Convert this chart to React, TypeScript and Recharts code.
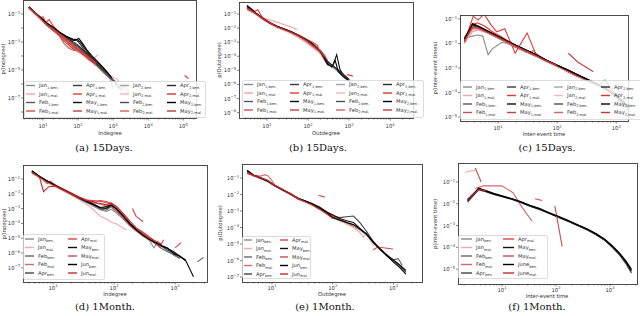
import React from 'react';
import { LineChart, Line, XAxis, YAxis } from 'recharts';

type Pt = [number, number | null];

// ---------- (a) indegree, 15 days ----------
const aJan1Ben: Pt[] = [[4,3e-1],[6,1.1e-1],[9,4.3e-2],[13,1.9e-2],[20,8e-3],[30,3.6e-3],[45,1.8e-3],[70,8e-4],[100,4e-4],[150,1.6e-4],[220,6e-5],[330,2.2e-5],[500,8e-6],[800,3e-6],[1100,1.6e-6],[1500,4e-7],[2000,7e-7],[2700,1.5e-7]];
const aJan1Mal: Pt[] = [[4,2.8e-1],[6,1.2e-1],[9,5e-2],[13,2.3e-2],[20,1e-2],[30,4.5e-3],[45,1.7e-3],[70,7e-4],[100,3.2e-4],[150,1.3e-4],[220,5e-5],[330,2e-5],[500,8e-6],[700,null],[290,7e-5],[370,1.2e-4]];
const aFeb1Ben: Pt[] = [[4,3.1e-1],[6,1.05e-1],[9,4.2e-2],[13,1.8e-2],[20,9e-3],[30,3.9e-3],[45,2e-3],[70,9e-4],[100,5e-4],[150,1.9e-4],[220,7e-5],[330,2.6e-5],[500,9e-6],[800,3.3e-6],[1200,1.4e-6]];
const aFeb1Mal: Pt[] = [[4,2.6e-1],[6,1e-1],[9,4e-2],[13,1.6e-2],[20,7e-3],[30,2.5e-3],[40,8e-4],[55,3.5e-4],[75,2.5e-4],[100,2.8e-4],[150,1.1e-4],[220,5e-5]];
const aApr1Ben: Pt[] = [[4,3.2e-1],[6,1.2e-1],[9,5e-2],[13,2e-2],[20,1e-2],[30,4.2e-3],[45,2.3e-3],[70,1.3e-3],[90,1.4e-3],[115,7e-4],[150,2.6e-4],[220,9e-5],[330,3.2e-5],[500,1.2e-5],[800,4e-6]];
const aApr1Mal: Pt[] = [[4,2.5e-1],[6,1.3e-1],[8,5e-2],[10,6.5e-2],[12,2.5e-2],[15,4e-2],[20,1.3e-2],[30,4.5e-3],[45,1.6e-3],[60,4.5e-4],[80,3e-4],[110,2e-4],[150,1.4e-4],[220,7e-5]];
const aMay1Ben: Pt[] = [[4,3e-1],[6,1.1e-1],[9,4.6e-2],[13,2.1e-2],[20,1.05e-2],[30,4.6e-3],[45,2.6e-3],[70,1.6e-3],[95,1.5e-3],[120,9e-4],[160,3e-4],[220,1.1e-4],[330,4e-5],[500,1.6e-5],[700,6e-6],[950,2.5e-6]];
const aMay1Mal: Pt[] = [[4,3e-1],[6,1e-1],[9,3.6e-2],[13,1.5e-2],[20,6e-3],[30,2.6e-3],[45,9e-4],[70,3.5e-4],[100,2e-4],[150,1e-4]];
const aJan2Ben: Pt[] = [[4,2.9e-1],[6,1.1e-1],[9,4.4e-2],[13,1.9e-2],[20,8.2e-3],[30,3.4e-3],[45,1.5e-3],[70,7e-4],[100,3.5e-4],[150,1.4e-4],[220,5e-5],[330,2e-5],[500,7e-6],[800,2.5e-6],[1000,5e-7],[1300,1.5e-6],[1700,3e-7],[2200,1e-6],[3000,2e-7]];
const aJan2Mal: Pt[] = [[4,2.7e-1],[6,1e-1],[9,4e-2],[13,1.8e-2],[20,7.5e-3],[30,3e-3],[45,1.3e-3],[70,5e-4],[100,2.2e-4],[150,9e-5],[220,4e-5],[330,1.8e-5],[500,8e-6],[800,4e-6],[1200,2.5e-6],[2000,9e-7]];
const aFeb2Ben: Pt[] = [[4,2.9e-1],[6,1.05e-1],[9,4.4e-2],[13,1.9e-2],[20,8.6e-3],[30,3.7e-3],[45,1.7e-3],[70,8.5e-4],[100,4.5e-4],[150,1.7e-4],[220,6.5e-5],[330,2.4e-5],[500,8.5e-6],[800,2.6e-6],[1200,1.1e-6],[1600,5e-7]];
const aFeb2Mal: Pt[] = [[4,2.9e-1],[6,1.1e-1],[9,4.8e-2],[13,2.1e-2],[20,9e-3],[30,3.5e-3],[45,1.4e-3],[70,6e-4],[100,3e-4],[150,1.4e-4],[220,5.5e-5]];
const aApr2Ben: Pt[] = [[4,3.1e-1],[6,1.15e-1],[9,4.7e-2],[13,2.1e-2],[20,9.5e-3],[30,4.2e-3],[45,2e-3],[70,1.1e-3],[100,6e-4],[150,2.2e-4],[220,8e-5],[330,3e-5],[500,1.1e-5],[800,3.6e-6]];
const aApr2Mal: Pt[] = [[4,2.7e-1],[6,1.2e-1],[9,5.5e-2],[13,2.2e-2],[20,1e-2],[30,4e-3],[45,1.8e-3],[70,7e-4],[100,3e-4],[150,1.5e-4],[220,7e-5],[330,3e-5],[400,null],[110000,4e-6],[140000,2.4e-6]];
const aMay2Ben: Pt[] = [[4,3.3e-1],[6,1.2e-1],[9,5e-2],[13,2.2e-2],[20,1.1e-2],[30,5e-3],[45,2.7e-3],[60,1.8e-3],[80,1.3e-3],[105,1.8e-3],[130,9e-4],[180,2.6e-4],[250,1e-4],[330,5e-5],[500,1.7e-5],[700,6.5e-6],[900,3e-6]];
const aMay2Mal: Pt[] = [[4,3e-1],[6,1.2e-1],[9,4.1e-2],[13,1.7e-2],[20,7e-3],[30,3e-3],[45,1.2e-3],[70,5e-4],[100,2.5e-4],[150,1.1e-4],[220,5e-5],[330,2.4e-5]];

// ---------- (b) outdegree, 15 days ----------
const bJan1Ben: Pt[] = [[3.3,3e-1],[5,1.2e-1],[8,4.4e-2],[12,2.1e-2],[18,1.2e-2],[27,7.5e-3],[40,4.8e-3],[60,2.7e-3],[90,1.3e-3],[130,6e-4],[200,1.9e-4],[250,7e-5],[300,3.5e-5],[450,1.3e-5],[650,5.5e-6],[1000,1.8e-6],[1300,1e-6]];
const bJan1Mal: Pt[] = [[3.3,2.5e-1],[5,1.2e-1],[7,6.5e-2],[9,5e-2],[12,3.8e-2],[18,2.6e-2],[27,1.7e-2],[40,1.15e-2],[55,8e-3]];
const bFeb1Ben: Pt[] = [[3.3,3.3e-1],[5,1.3e-1],[8,4.6e-2],[12,2.3e-2],[18,1.3e-2],[27,8e-3],[40,5.2e-3],[60,2.9e-3],[90,1.5e-3],[130,6.8e-4],[200,2.2e-4],[250,9e-5],[300,4.5e-5],[450,1.5e-5],[650,6.5e-6],[1000,2.2e-6]];
const bFeb1Mal: Pt[] = [[3.3,2.2e-1],[5,1.1e-1],[8,4.2e-2],[12,2e-2],[18,1.1e-2],[27,7e-3],[40,4.4e-3],[60,2.3e-3],[90,1.1e-3],[130,4.5e-4],[200,1.8e-4],[250,6e-5]];
const bApr1Ben: Pt[] = [[3.3,3.5e-1],[5,1.3e-1],[8,4.8e-2],[12,2.3e-2],[18,1.3e-2],[27,8.5e-3],[40,5.5e-3],[60,3e-3],[90,1.6e-3],[130,8e-4],[200,2.5e-4],[250,1e-4],[300,4e-5],[450,1.6e-5],[650,7e-6],[1000,2.1e-6]];
const bApr1Mal: Pt[] = [[3.3,2e-1],[4,2.6e-1],[5,1.5e-1],[6,2e-1],[8,5e-2],[12,2.4e-2],[18,1.3e-2],[27,8e-3],[40,5e-3],[60,3.2e-3],[90,1.7e-3],[130,1e-3],[170,6e-4],[200,1.5e-4],[250,1e-4]];
const bMay1Ben: Pt[] = [[3.3,3.8e-1],[5,1.35e-1],[8,4.7e-2],[12,2.2e-2],[18,1.25e-2],[27,8e-3],[40,5e-3],[60,2.8e-3],[90,1.4e-3],[130,6.5e-4],[200,2e-4],[250,6e-5],[300,2.5e-5],[400,2e-5],[500,1.3e-4],[600,1.2e-5],[800,3e-6],[1000,2e-6]];
const bMay1Mal: Pt[] = [[3.3,2.8e-1],[5,1.2e-1],[8,4.3e-2],[12,2.1e-2],[18,1.1e-2],[27,7e-3],[40,4.5e-3],[60,2.6e-3],[90,1.2e-3],[130,5e-4],[200,1.6e-4],[250,7e-5],[300,3e-5]];
const bJan2Ben: Pt[] = [[3.3,3e-1],[5,1.2e-1],[8,4.5e-2],[12,2.2e-2],[18,1.2e-2],[27,7.2e-3],[40,4.6e-3],[60,2.5e-3],[90,1.2e-3],[130,5.5e-4],[200,1.7e-4],[250,7.5e-5],[300,3.5e-5],[450,1.3e-5],[650,5e-6],[1000,1.5e-6],[1400,8e-7]];
const bJan2Mal: Pt[] = [[3.3,2.4e-1],[5,1.1e-1],[8,4e-2],[12,2e-2],[18,1.1e-2],[27,6.5e-3],[40,3.8e-3],[60,2e-3],[90,9e-4],[130,4e-4],[200,1.5e-4],[250,5e-5]];
const bFeb2Ben: Pt[] = [[3.3,3.2e-1],[5,1.25e-1],[8,4.5e-2],[12,2.2e-2],[18,1.25e-2],[27,7.8e-3],[40,5e-3],[60,2.8e-3],[90,1.45e-3],[130,6.5e-4],[200,2.1e-4],[250,8e-5],[300,3.8e-5],[450,1.5e-5],[650,6e-6],[1000,2e-6]];
const bFeb2Mal: Pt[] = [[3.3,2.6e-1],[5,1.15e-1],[8,4.5e-2],[12,2.2e-2],[18,1.2e-2],[27,7.5e-3],[40,4.6e-3],[60,2.7e-3],[90,1.3e-3],[130,5.5e-4],[200,2e-4],[250,7e-5],[300,3e-5]];
const bApr2Ben: Pt[] = [[3.3,3.4e-1],[5,1.3e-1],[8,4.7e-2],[12,2.3e-2],[18,1.3e-2],[27,8.2e-3],[40,5.3e-3],[60,2.9e-3],[90,1.55e-3],[130,7.5e-4],[200,2.4e-4],[250,9e-5],[300,4.2e-5],[450,1.7e-5],[650,7e-6],[1000,2.3e-6]];
const bApr2Mal: Pt[] = [[3.3,2.3e-1],[5,1.3e-1],[8,5.2e-2],[12,2.5e-2],[18,1.3e-2],[27,8.5e-3],[40,5.2e-3],[60,3e-3],[90,1.5e-3],[130,7e-4],[200,2.6e-4],[250,1.2e-4],[300,5e-5],[400,null],[900,5e-6],[1250,4e-6]];
const bMay2Ben: Pt[] = [[3.3,4e-1],[5,1.4e-1],[8,4.8e-2],[12,2.3e-2],[18,1.3e-2],[27,8.2e-3],[40,5.2e-3],[60,2.9e-3],[90,1.5e-3],[130,7e-4],[200,2.2e-4],[250,7e-5],[300,3e-5],[380,1.7e-5],[460,5e-5],[550,8e-6],[700,4e-6],[1000,1.8e-6]];
const bMay2Mal: Pt[] = [[3.3,2.7e-1],[5,1.25e-1],[8,4.6e-2],[12,2.3e-2],[18,1.2e-2],[27,7.6e-3],[40,4.8e-3],[60,2.8e-3],[90,1.4e-3],[130,6e-4],[200,2.3e-4],[250,9e-5]];

// ---------- (c) inter-event time, 15 days ----------
const cJan1Ben: Pt[] = [[2.7,1.6e-2],[3.7,2e-2],[4.5,2.2e-2],[5.5,2e-2],[6.8,3.5e-3],[8,6e-3],[11.5,1.1e-2],[15,1e-2],[20,7e-3],[30,4.5e-3],[40,5e-3],[50,2.5e-3],[65,2e-3],[100,1.2e-3],[150,8e-4],[220,5e-4],[330,3.3e-4],[500,2e-4],[800,1.2e-4],[1000,6e-5],[1400,3e-5]];
const cJan1Mal: Pt[] = [[2.7,1e-2],[3.7,3e-2],[4.5,3.5e-2],[6,3e-2],[8,2.4e-2],[11,1.6e-2],[15,1.1e-2],[20,7.5e-3],[30,5e-3],[45,3e-3],[65,1.9e-3],[100,1.2e-3],[150,7.5e-4],[220,4.5e-4],[330,2.8e-4],[500,1.8e-4],[700,1.1e-4]];
const cFeb1Ben: Pt[] = [[2.7,1.5e-2],[3.7,5.5e-2],[4.5,4.8e-2],[6,3.4e-2],[8,2.4e-2],[11,1.7e-2],[15,1.15e-2],[20,8.2e-3],[30,5.2e-3],[45,3.3e-3],[65,2.1e-3],[100,1.3e-3],[150,8.2e-4],[220,5.2e-4],[330,3.3e-4],[500,2e-4],[700,1.3e-4],[1000,7e-5],[1400,3.2e-5]];
const cFeb1Mal: Pt[] = [[2.7,1.2e-2],[3.7,4e-2],[4.5,4e-2],[6,3e-2],[8,2.2e-2],[11,1.5e-2],[15,1e-2],[20,7e-3],[30,4.6e-3],[45,3e-3],[65,1.9e-3],[100,1.15e-3],[150,7.5e-4],[220,4.6e-4],[330,3e-4],[500,1.8e-4]];
const cApr1Ben: Pt[] = [[2.7,1.6e-2],[3.7,6e-2],[4.5,5e-2],[6,3.5e-2],[8,2.5e-2],[11,1.7e-2],[15,1.2e-2],[20,8.5e-3],[30,5.3e-3],[45,3.4e-3],[65,2.1e-3],[100,1.3e-3],[150,8.4e-4],[220,5.3e-4],[330,3.4e-4],[500,2.1e-4],[700,1.3e-4],[1000,7.5e-5],[1400,4e-5],[1800,2.2e-5]];
const cApr1Mal: Pt[] = [[2.7,1.1e-2],[3.8,1.3e-1],[4.6,9e-2],[5.8,1.6e-1],[7.5,6e-2],[9.5,3e-2],[13,4e-2],[19.5,4e-3],[31,2.7e-2],[43,4e-3],[65,2e-3],[100,1.3e-3],[150,7e-4],[220,4.5e-4]];
const cMay1Ben: Pt[] = [[2.7,1.4e-2],[3.7,6.5e-2],[4.5,5.3e-2],[6,3.7e-2],[8,2.6e-2],[11,1.8e-2],[15,1.2e-2],[20,8.5e-3],[30,5.4e-3],[45,3.4e-3],[65,2.1e-3],[100,1.3e-3],[150,8.5e-4],[220,5.4e-4],[330,3.4e-4],[500,2.1e-4],[700,1.35e-4],[1000,7.5e-5],[1400,3.8e-5],[1800,1.8e-5]];
const cMay1Mal: Pt[] = [[2.7,1.3e-2],[3.7,4.5e-2],[4.5,4.3e-2],[6,3e-2],[8,2.2e-2],[11,1.5e-2],[15,1e-2],[20,7e-3],[30,4.5e-3],[45,2.9e-3],[60,null],[155,4e-3],[220,1.8e-3],[410,7e-4]];
const cJan2Ben: Pt[] = [[2.7,1.5e-2],[3.7,4.5e-2],[4.5,4.3e-2],[6,3.1e-2],[8,2.2e-2],[11,1.55e-2],[15,1.05e-2],[20,7.7e-3],[30,4.8e-3],[45,3.1e-3],[65,1.9e-3],[100,1.2e-3],[150,7.7e-4],[220,4.8e-4],[330,3.1e-4],[500,1.9e-4],[700,1.2e-4],[1000,6e-5],[1400,2.5e-5],[1800,1.3e-5]];
const cJan2Mal: Pt[] = [[2.7,1.3e-2],[3.7,3.5e-2],[4.5,3.8e-2],[6,3e-2],[8,2.2e-2],[11,1.5e-2],[15,1.05e-2],[20,7.5e-3],[30,4.8e-3],[45,3e-3],[65,1.9e-3],[100,1.2e-3],[150,7.8e-4],[220,5e-4],[330,3.2e-4],[500,2e-4],[700,1.2e-4],[1000,6.5e-5]];
const cFeb2Ben: Pt[] = [[2.7,1.5e-2],[3.7,5.2e-2],[4.5,4.6e-2],[6,3.3e-2],[8,2.35e-2],[11,1.65e-2],[15,1.1e-2],[20,8e-3],[30,5e-3],[45,3.2e-3],[65,2e-3],[100,1.25e-3],[150,8e-4],[220,5e-4],[330,3.2e-4],[500,2e-4],[650,3.2e-4],[800,1.5e-4],[1000,8e-5],[1400,3.5e-5],[1800,1.6e-5]];
const cFeb2Mal: Pt[] = [[2.7,1.2e-2],[3.7,4.2e-2],[4.5,4.1e-2],[6,3.1e-2],[8,2.2e-2],[11,1.5e-2],[15,1.05e-2],[20,7.4e-3],[30,4.7e-3],[45,3e-3],[65,1.9e-3],[100,1.2e-3],[150,7.6e-4],[220,4.8e-4],[330,3e-4]];
const cApr2Ben: Pt[] = [[2.7,1.7e-2],[3.7,5.8e-2],[4.5,5e-2],[6,3.5e-2],[8,2.5e-2],[11,1.7e-2],[15,1.15e-2],[20,8.3e-3],[30,5.2e-3],[45,3.3e-3],[65,2.05e-3],[100,1.3e-3],[150,8.2e-4],[220,5.2e-4],[330,3.3e-4],[500,2.05e-4],[700,1.3e-4],[1000,7.2e-5],[1400,3.6e-5],[1800,2e-5]];
const cApr2Mal: Pt[] = [[2.7,1.2e-2],[3.7,6e-2],[4.5,7e-2],[6,5e-2],[8,3e-2],[11,2e-2],[15,1.2e-2],[20,8e-3],[30,5e-3],[45,3.2e-3],[65,2e-3],[100,1.25e-3],[150,8e-4],[220,5e-4]];
const cMay2Ben: Pt[] = [[2.7,1.5e-2],[3.7,6.2e-2],[4.5,5.2e-2],[6,3.6e-2],[8,2.55e-2],[11,1.75e-2],[15,1.2e-2],[20,8.4e-3],[30,5.3e-3],[45,3.4e-3],[65,2.1e-3],[100,1.3e-3],[150,8.3e-4],[220,5.3e-4],[330,3.4e-4],[500,2.1e-4],[700,1.3e-4],[1000,7e-5],[1400,3.4e-5],[1800,1.6e-5]];
const cMay2Mal: Pt[] = [[2.7,1.3e-2],[3.7,4.8e-2],[4.5,4.5e-2],[6,3.2e-2],[8,2.3e-2],[11,1.6e-2],[15,1.1e-2],[20,7.8e-3],[30,4.9e-3],[45,3.1e-3],[65,2e-3],[100,1.25e-3]];

// ---------- (d) indegree, 1 month ----------
const dJanBen: Pt[] = [[4.5,3e-1],[6,1.3e-1],[8,6.5e-2],[11,3.2e-2],[15,1.6e-2],[20,8.5e-3],[27,4.5e-3],[35,2.6e-3],[45,1.5e-3],[60,8e-4],[75,6.5e-4],[90,9e-4],[110,5e-4],[140,2e-4],[180,7e-5],[230,3e-5],[300,1.3e-5],[380,7e-6],[450,2.2e-6],[520,6e-6],[600,3e-6],[750,1.5e-6],[950,7e-7],[1200,4e-7]];
const dJanMal: Pt[] = [[4.5,2.6e-1],[6,1.2e-1],[8,6e-2],[11,3e-2],[15,1.5e-2],[20,8e-3],[27,4e-3],[35,2e-3],[45,9e-4],[60,3e-4],[75,2e-4],[90,1.2e-4],[110,9e-5],[140,5e-5],[160,3.6e-5]];
const dFebBen: Pt[] = [[4.5,3.3e-1],[6,1.45e-1],[8,7e-2],[11,3.4e-2],[15,1.7e-2],[20,9e-3],[27,4.6e-3],[35,2.8e-3],[45,1.8e-3],[60,9e-4],[75,8e-4],[90,1.3e-3],[110,7e-4],[140,2.4e-4],[180,8e-5],[230,3.3e-5],[300,1.5e-5],[380,8e-6],[480,4e-6],[600,2e-6],[750,1.2e-6],[950,8e-7],[1200,4.5e-7],[1600,null],[2300,2.5e-7],[2900,5e-7]];
const dFebMal: Pt[] = [[4.5,2.8e-1],[6,1.3e-1],[8,6e-2],[11,3e-2],[15,1.6e-2],[20,9e-3],[27,5e-3],[35,3.5e-3],[45,2.5e-3],[60,2e-3],[75,1.5e-3],[90,1.2e-3],[110,6e-4],[140,2.2e-4],[180,7e-5],[230,3e-5],[300,1.5e-5]];
const dAprBen: Pt[] = [[4.5,3.4e-1],[6,1.5e-1],[8,7.5e-2],[11,3.6e-2],[15,1.9e-2],[20,1.05e-2],[27,5.5e-3],[35,3.4e-3],[45,2.2e-3],[60,1.1e-3],[75,1e-3],[90,1.6e-3],[110,9e-4],[140,3e-4],[180,9e-5],[230,3.6e-5],[300,1.6e-5],[380,8e-6],[480,5e-6],[600,2.8e-6],[750,1.6e-6],[950,1e-6],[1200,5.5e-7],[1500,3.5e-7]];
const dAprMal: Pt[] = [[4.5,2.5e-1],[5.5,1.7e-1],[6.5,1.1e-1],[8,5e-2],[9,7e-2],[11,3.8e-2],[15,2e-2],[20,1.1e-2],[27,6e-3],[35,4e-3],[45,3e-3],[60,3.5e-3],[75,3e-3],[90,2.2e-3],[110,1e-3],[140,3e-4],[180,1e-4],[230,5e-5],[300,2.5e-5],[380,1.2e-5],[480,6e-6],[560,2.5e-6],[650,8e-6],[720,null],[1000,2.2e-6],[1250,5e-6]];
const dMayBen: Pt[] = [[4.5,3.5e-1],[6,1.5e-1],[8,7.2e-2],[11,3.6e-2],[15,1.85e-2],[20,1e-2],[27,5.2e-3],[35,3e-3],[45,2e-3],[60,1.2e-3],[75,1.4e-3],[90,1.9e-3],[110,1e-3],[140,3.5e-4],[180,1e-4],[230,3.8e-5],[300,1.7e-5],[380,9e-6],[480,5.5e-6],[600,3e-6],[750,2e-6],[950,1.2e-6],[1200,6e-7],[1500,3e-7]];
const dMayMal: Pt[] = [[4.5,3e-1],[6,1.4e-1],[8,7e-2],[11,3.5e-2],[15,1.8e-2],[20,1e-2],[27,5.5e-3],[35,3.8e-3],[45,3.5e-3],[60,3e-3],[75,2.5e-3],[90,2e-3],[110,1.1e-3],[140,4e-4],[180,1.3e-4],[190,null],[200,1e-3],[230,3e-4],[300,1.3e-4]];
const dJunBen: Pt[] = [[4.5,3.6e-1],[6,1.5e-1],[8,7.3e-2],[11,3.7e-2],[15,1.9e-2],[20,1.05e-2],[27,5.4e-3],[35,3.2e-3],[45,1.9e-3],[60,1.1e-3],[75,1.1e-3],[90,1.7e-3],[110,9.5e-4],[140,3.2e-4],[180,9.5e-5],[230,3.8e-5],[300,1.6e-5],[380,8.5e-6],[480,4.8e-6],[600,3.2e-6],[750,2.2e-6],[950,9e-7],[1200,6e-7],[1500,3e-7],[2000,2.5e-8]];
const dJunMal: Pt[] = [[4.5,2.8e-1],[6,1.3e-1],[7,1.4e-2],[8.5,3e-2],[11,3.3e-2],[15,1.8e-2],[20,1e-2],[27,5.6e-3],[35,3.6e-3],[45,2.8e-3],[60,2.2e-3],[75,1.8e-3],[90,2.4e-3],[110,1.4e-3],[140,5e-4],[180,1.5e-4],[230,5e-5],[300,2e-5],[380,1e-5],[480,6e-6],[600,4e-6]];

// ---------- (e) outdegree, 1 month ----------
const eJanBen: Pt[] = [[3.9,2.4e-1],[5,1.35e-1],[6.5,9e-2],[8.5,6e-2],[11,3.3e-2],[15,1.8e-2],[20,1e-2],[27,5.3e-3],[35,3.8e-3],[45,2.6e-3],[60,1.5e-3],[80,7.5e-4],[100,3.8e-4],[130,2.6e-4],[170,1.8e-4],[220,1.2e-4],[280,7e-5],[360,3.5e-5],[460,1.2e-5],[600,4.5e-6],[780,1.8e-6],[1000,9e-7],[1200,6e-7],[1400,3e-7]];
const eJanMal: Pt[] = [[3.9,2.2e-1],[5,1.5e-1],[6.5,1.1e-1],[8.5,7.5e-2],[11,3.6e-2],[15,2e-2],[20,1.1e-2],[27,5e-3],[35,3.5e-3],[45,2.5e-3],[60,1.4e-3],[80,7e-4],[100,4.5e-4],[130,3e-4],[170,1.5e-4],[220,1e-4],[280,5e-5],[320,2.5e-5],[360,5e-5],[420,1.5e-5],[480,8e-6]];
const eFebBen: Pt[] = [[3.9,2.6e-1],[5,1.45e-1],[6.5,1.05e-1],[8.5,7e-2],[11,3.6e-2],[15,1.95e-2],[20,1.15e-2],[27,5.8e-3],[35,4.1e-3],[45,2.9e-3],[60,1.7e-3],[80,8.5e-4],[100,4.2e-4],[130,3e-4],[170,2.1e-4],[220,1.5e-4],[280,8.5e-5],[360,4.2e-5],[460,1.5e-5],[600,5.5e-6],[780,2.2e-6],[1000,1.1e-6],[1200,1.3e-6],[1400,5e-7]];
const eFebMal: Pt[] = [[3.9,1.8e-1],[5,1.5e-1],[6.5,1.3e-1],[7.5,1.6e-1],[8.5,1.4e-1],[9.5,9e-2],[11,4e-2],[15,2e-2],[20,1.2e-2],[27,6e-3],[35,4e-3],[45,2.5e-3],[60,1.4e-3],[80,7e-4],[100,4e-4],[130,3e-4],[170,2e-4],[220,1.2e-4]];
const eAprBen: Pt[] = [[3.9,2.7e-1],[5,1.45e-1],[6.5,1e-1],[8.5,6.8e-2],[11,3.6e-2],[15,1.9e-2],[20,1.1e-2],[27,5.8e-3],[35,4.2e-3],[45,3e-3],[60,1.8e-3],[80,9e-4],[100,5e-4],[130,4e-4],[170,4.5e-4],[220,5e-4],[280,2e-4],[360,6e-5],[460,1.5e-5],[600,5e-6],[780,2.2e-6],[1000,1e-6],[1300,4.5e-7],[1600,2e-7]];
const eAprMal: Pt[] = [[3.9,2.3e-1],[5,1.4e-1],[6.5,1e-1],[8.5,7e-2],[11,3.5e-2],[15,1.9e-2],[20,1.1e-2],[27,5.5e-3],[35,3.8e-3],[45,2.6e-3],[60,1.5e-3],[80,8e-4],[100,4.5e-4],[130,3e-4],[170,2e-4],[200,null],[460,4.4e-6],[550,6.6e-6],[980,5e-6]];
const eMayBen: Pt[] = [[3.9,2.8e-1],[5,1.5e-1],[6.5,1e-1],[8.5,6.5e-2],[11,3.5e-2],[15,1.9e-2],[20,1.1e-2],[27,5.7e-3],[35,4e-3],[45,2.8e-3],[60,1.6e-3],[80,8.5e-4],[100,6e-4],[130,3.5e-4],[170,2.6e-4],[220,2e-4],[280,9e-5],[360,4e-5],[460,1.3e-5],[600,5e-6],[780,2e-6],[1000,1.1e-6],[1300,5e-7],[1600,2.5e-7]];
const eMayMal: Pt[] = [[3.9,2e-1],[5,1.35e-1],[6.5,9.5e-2],[8.5,6.5e-2],[11,3.4e-2],[15,1.8e-2],[20,1.05e-2],[27,5.4e-3],[35,3.8e-3],[45,2.6e-3],[60,1.5e-3],[80,7.5e-4],[100,4e-4],[120,null],[58,9e-3],[74,7e-3]];
const eJunBen: Pt[] = [[3.9,3e-1],[5,1.5e-1],[6.5,1e-1],[8.5,6.6e-2],[11,3.6e-2],[15,1.95e-2],[20,1.12e-2],[27,5.8e-3],[35,4e-3],[45,2.8e-3],[60,1.6e-3],[80,8e-4],[100,4e-4],[130,2.9e-4],[170,2e-4],[220,1.5e-4],[280,8e-5],[360,4e-5],[460,1.4e-5],[600,5e-6],[780,2e-6],[1000,8e-7],[1300,3.5e-7],[1600,1.5e-7]];
const eJunMal: Pt[] = [[3.9,2.1e-1],[5,1.45e-1],[6.5,1.05e-1],[8.5,7e-2],[11,3.7e-2],[15,2e-2],[20,1.15e-2],[27,5.5e-3],[35,3.6e-3],[45,2.4e-3],[60,1.3e-3],[80,6.5e-4],[100,3.5e-4]];

// ---------- (f) inter-event time, 1 month ----------
const fJanBen: Pt[] = [[2.3,1.3e-2],[3,2.6e-2],[3.7,4.5e-2],[5,3.7e-2],[7,2.75e-2],[10,2.15e-2],[15,1.6e-2],[22,1.15e-2],[33,7.8e-3],[45,6.5e-3],[60,4.5e-3],[75,3.6e-3],[110,2.4e-3],[170,1.55e-3],[250,1e-3],[380,6.4e-4],[550,3.9e-4],[800,2.1e-4],[1100,1.05e-4],[1500,4.6e-5],[2000,1.8e-5],[2400,8e-6]];
const fJanMal: Pt[] = [[2.05,2.8e-1],[3.2,3.5e-1]];
const fFebBen: Pt[] = [[2.3,1.5e-2],[3,2.9e-2],[3.7,5e-2],[5,3.9e-2],[7,2.9e-2],[10,2.25e-2],[15,1.7e-2],[22,1.25e-2],[33,8.2e-3],[50,5.8e-3],[75,3.8e-3],[110,2.6e-3],[170,1.65e-3],[250,1.1e-3],[380,6.8e-4],[550,4.1e-4],[800,2.3e-4],[1100,1.15e-4],[1500,5.2e-5],[2000,2.1e-5],[2500,9e-6]];
const fFebMal: Pt[] = [[3.2,5e-2],[4.5,6.6e-2],[10,6.6e-2],[16,3.2e-2],[23,7.4e-3],[36,1.6e-3]];
const fAprBen: Pt[] = [[2.3,1.2e-2],[3,2.5e-2],[3.7,4.3e-2],[5,3.6e-2],[7,2.7e-2],[10,2.1e-2],[15,1.6e-2],[22,1.15e-2],[33,7.7e-3],[50,5.4e-3],[75,3.6e-3],[110,2.4e-3],[170,1.55e-3],[250,1e-3],[380,6.3e-4],[550,3.8e-4],[800,2.1e-4],[1100,1e-4],[1500,4.5e-5],[2000,1.7e-5],[2500,6.5e-6]];
const fAprMal: Pt[] = [[41,1.7e-2],[55,1.4e-2]];
const fMayBen: Pt[] = [[2.3,1.4e-2],[3,2.8e-2],[3.7,4.8e-2],[5,3.8e-2],[7,2.8e-2],[10,2.2e-2],[15,1.65e-2],[22,1.2e-2],[33,8e-3],[50,5.6e-3],[75,3.7e-3],[110,2.5e-3],[170,1.6e-3],[250,1.05e-3],[380,6.6e-4],[550,4e-4],[800,2.2e-4],[1100,1.1e-4],[1500,5e-5],[2000,2e-5],[2500,8e-6]];
const fMayMal: Pt[] = [[3.2,4.4e-1],[4.1,1e-1],[20,null],[95,8e-3],[130,1.1e-4]];
const fJunBen: Pt[] = [[2.3,1.6e-2],[3,3e-2],[3.7,5.2e-2],[5,4e-2],[7,3e-2],[10,2.3e-2],[15,1.75e-2],[22,1.28e-2],[33,8.5e-3],[50,6e-3],[75,3.9e-3],[110,2.65e-3],[170,1.7e-3],[250,1.1e-3],[380,7e-4],[550,4.3e-4],[800,2.4e-4],[1100,1.2e-4],[1500,5.5e-5],[2000,2.3e-5],[2500,1e-5]];
const fJunMal: Pt[] = [[2.3,1.5e-2],[3.7,4.6e-2],[5,3.9e-2]];

// ---------- legend labels ----------
const names15 = ['Jan', 'Jan', 'Feb', 'Feb', 'Apr', 'Apr', 'May', 'May', 'Jan', 'Jan', 'Feb', 'Feb', 'Apr', 'Apr', 'May', 'May'];
const subs15 = ['1,ben.', '1,mal.', '1,ben.', '1,mal.', '1,ben.', '1,mal.', '1,ben.', '1,mal.', '2,ben.', '2,mal.', '2,ben.', '2,mal.', '2,ben.', '2,mal.', '2,ben.', '2,mal.'];
const names1m = ['Jan', 'Jan', 'Feb', 'Feb', 'Apr', 'Apr', 'May', 'May', 'Jun', 'Jun'];
const namesF = ['Jan', 'Jan', 'Feb', 'Feb', 'Apr', 'Apr', 'May', 'May', 'June', 'June'];
const subs1m = ['ben.', 'mal.', 'ben.', 'mal.', 'ben.', 'mal.', 'ben.', 'mal.', 'ben.', 'mal.'];

const colors15 = ['#8c8c8c', '#f3a3a3', '#595959', '#c65454', '#383838', '#e33a34', '#0d0d0d', '#bf4343',
  '#a2a2a2', '#f6b6b6', '#4e4e4e', '#d26262', '#2a2a2a', '#e2322c', '#000000', '#c23a3a'];
const colors1m = ['#8c8c8c', '#f4a8a8', '#666666', '#d66a6a', '#444444', '#e04646', '#111111', '#c84c4c', '#000000', '#c62a2a'];

type Legend = { x: number; y: number; w: number; h: number; cols: number[]; rows: number[]; len: number };
type PanelCfg = {
  series: Pt[][]; names: string[]; subs: string[]; colors: string[];
  frame: { x: number; y: number; w: number; h: number };
  xDomain: [number, number]; yDomain: [number, number];
  yMajor: number[]; yLabeled: number[]; xTickOffset: number;
  xLabel: string; yLabel: string; xLabelPos: [number, number]; yLabelPos: [number, number];
  caption: string; captionPos: [number, number]; legend: Legend;
};

const panels: PanelCfg[] = [
  {
    series: [aJan1Ben, aJan1Mal, aFeb1Ben, aFeb1Mal, aApr1Ben, aApr1Mal, aMay1Ben, aMay1Mal, aJan2Ben, aJan2Mal, aFeb2Ben, aFeb2Mal, aApr2Ben, aApr2Mal, aMay2Ben, aMay2Mal],
    names: names15, subs: subs15, colors: colors15,
    frame: { x: 23, y: 0, w: 173, h: 118 },
    xDomain: [2.7, 2.3e5], yDomain: [3.7e-9, 1],
    yMajor: [1e-1, 1e-2, 1e-3, 1e-4, 1e-5, 1e-6, 1e-7, 1e-8], yLabeled: [-1, -3, -5, -7], xTickOffset: 10,
    xLabel: 'Indegree', yLabel: 'p(Indegree)', xLabelPos: [110, 134], yLabelPos: [4, 59],
    caption: '(a) 15Days.', captionPos: [104, 148],
    legend: { x: 24, y: 81, w: 181, h: 36, cols: [26, 73, 120, 167], rows: [85.5, 94, 102.5, 111], len: 9 },
  },
  {
    series: [bJan1Ben, bJan1Mal, bFeb1Ben, bFeb1Mal, bApr1Ben, bApr1Mal, bMay1Ben, bMay1Mal, bJan2Ben, bJan2Mal, bFeb2Ben, bFeb2Mal, bApr2Ben, bApr2Mal, bMay2Ben, bMay2Mal],
    names: names15, subs: subs15, colors: colors15,
    frame: { x: 239, y: 2, w: 174, h: 116 },
    xDomain: [2.1, 3.6e4], yDomain: [4.2e-9, 0.71],
    yMajor: [1e-1, 1e-2, 1e-3, 1e-4, 1e-5, 1e-6, 1e-7, 1e-8], yLabeled: [-1, -2, -3, -4, -5, -6, -7, -8], xTickOffset: 10,
    xLabel: 'Outdegree', yLabel: 'p(Outdegree)', xLabelPos: [326, 134], yLabelPos: [220, 60],
    caption: '(b) 15Days.', captionPos: [318, 148],
    legend: { x: 242, y: 80, w: 181, h: 37, cols: [244, 290, 336, 383], rows: [84.5, 93, 101.5, 110], len: 9 },
  },
  {
    series: [cJan1Ben, cJan1Mal, cFeb1Ben, cFeb1Mal, cApr1Ben, cApr1Mal, cMay1Ben, cMay1Mal, cJan2Ben, cJan2Mal, cFeb2Ben, cFeb2Mal, cApr2Ben, cApr2Mal, cMay2Ben, cMay2Mal],
    names: names15, subs: subs15, colors: colors15,
    frame: { x: 460, y: 15, w: 168, h: 106 },
    xDomain: [2.27, 1585], yDomain: [6.9e-6, 0.145],
    yMajor: [1e-1, 1e-2, 1e-3, 1e-4, 1e-5], yLabeled: [-1, -2, -3, -4, -5], xTickOffset: 9,
    xLabel: 'Inter-event time', yLabel: 'p(inter-event times)', xLabelPos: [544, 135], yLabelPos: [436, 68],
    caption: '(c) 15Days.', captionPos: [547, 148],
    legend: { x: 460, y: 80, w: 182, h: 39, cols: [463, 507, 554, 601], rows: [87, 95.5, 104, 112.5], len: 9 },
  },
  {
    series: [dJanBen, dJanMal, dFebBen, dFebMal, dAprBen, dAprMal, dMayBen, dMayMal, dJunBen, dJunMal],
    names: names1m, subs: subs1m, colors: colors1m,
    frame: { x: 23, y: 165, w: 184, h: 117 },
    xDomain: [3.22, 3330], yDomain: [1.1e-8, 0.88],
    yMajor: [1e-1, 1e-2, 1e-3, 1e-4, 1e-5, 1e-6, 1e-7], yLabeled: [-1, -2, -3, -4, -5, -6, -7], xTickOffset: 7.5,
    xLabel: 'Indegree', yLabel: 'p(Indegree)', xLabelPos: [115, 294.5], yLabelPos: [5, 224],
    caption: '(d) 1Month.', captionPos: [105, 307],
    legend: { x: 23, y: 234, w: 81, h: 45, cols: [25, 68], rows: [239, 247.5, 256, 264.5, 273], len: 9 },
  },
  {
    series: [eJanBen, eJanMal, eFebBen, eFebMal, eAprBen, eAprMal, eMayBen, eMayMal, eJunBen, eJunMal],
    names: names1m, subs: subs1m, colors: colors1m,
    frame: { x: 242, y: 164, w: 180, h: 118 },
    xDomain: [3.21, 2950], yDomain: [5e-8, 0.71],
    yMajor: [1e-1, 1e-2, 1e-3, 1e-4, 1e-5, 1e-6, 1e-7], yLabeled: [-1, -2, -3, -4, -5, -6, -7], xTickOffset: 7.5,
    xLabel: 'Outdegree', yLabel: 'p(Outdegree)', xLabelPos: [332, 294.5], yLabelPos: [221, 223],
    caption: '(e) 1Month.', captionPos: [325, 307],
    legend: { x: 242, y: 236, w: 68, h: 42, cols: [244, 280], rows: [240, 248.5, 257, 265.5, 274], len: 8 },
  },
  {
    series: [fJanBen, fJanMal, fFebBen, fFebMal, fAprBen, fAprMal, fMayBen, fMayMal, fJunBen, fJunMal],
    names: namesF, subs: subs1m, colors: colors1m,
    frame: { x: 458, y: 163, w: 179, h: 121 },
    xDomain: [1.53, 3160], yDomain: [2.1e-6, 0.74],
    yMajor: [1e-1, 1e-2, 1e-3, 1e-4, 1e-5], yLabeled: [-1, -2, -3, -4, -5], xTickOffset: 7.5,
    xLabel: 'Inter-event time', yLabel: 'p(inter-event time)', xLabelPos: [547, 297], yLabelPos: [436, 224],
    caption: '(f) 1Month.', captionPos: [537, 307],
    legend: { x: 458, y: 235, w: 89, h: 43, cols: [461, 503], rows: [239, 247.5, 256, 264.5, 273], len: 11 },
  },
];

const SANS = 'DejaVu Sans, sans-serif';
const expText = (e: number) => (e < 0 ? '\u2212' + Math.abs(e) : String(e));

function minorTicks(domain: [number, number]) {
  const out: number[] = [];
  const lo = Math.floor(Math.log10(domain[0]));
  const hi = Math.ceil(Math.log10(domain[1]));
  for (let d = lo; d <= hi; d++) {
    for (let m = 1; m < 10; m++) {
      const v = m * Math.pow(10, d);
      if (v >= domain[0] && v <= domain[1]) out.push(v);
    }
  }
  return out;
}

const makeXTick = (offset: number) => (props: any) => {
  const { x, y, payload } = props;
  const lg = Math.log10(payload.value);
  const major = Math.abs(lg - Math.round(lg)) < 1e-6;
  return (
    <g>
      <line x1={x} x2={x} y1={y} y2={y + (major ? 2.5 : 1.5)} stroke="#333" strokeWidth={0.6} />
      {major && (
        <text x={x} y={y + offset} textAnchor="middle" fontSize={5.3} fill="#333" fontFamily={SANS}>
          10<tspan dy={-2.4} fontSize={3.7}>{expText(Math.round(lg))}</tspan>
        </text>
      )}
    </g>
  );
};

const makeYTick = (labeled: number[]) => (props: any) => {
  const { x, y, payload } = props;
  const e = Math.round(Math.log10(payload.value));
  return (
    <g>
      <line x1={x} x2={x - 2} y1={y} y2={y} stroke="#333" strokeWidth={0.6} />
      {labeled.includes(e) && (
        <text x={x - 3} y={y + 2} textAnchor="end" fontSize={5.3} fill="#333" fontFamily={SANS}>
          10<tspan dy={-2.4} fontSize={3.7}>{expText(e)}</tspan>
        </text>
      )}
    </g>
  );
};

const YW = 30;
const PADT = 6;
const PADR = 6;
const XH = 14;

const PanelChart = ({ p }: { p: PanelCfg }) => {
  const { frame } = p;
  return (
    <div style={{ position: 'absolute', left: frame.x - YW, top: frame.y - PADT }}>
      <LineChart width={frame.w + YW + PADR} height={frame.h + PADT + XH} margin={{ top: PADT, right: PADR, bottom: 0, left: 0 }}>
        <XAxis type="number" dataKey="x" scale="log" domain={p.xDomain} allowDataOverflow ticks={minorTicks(p.xDomain)}
          interval={0} tick={makeXTick(p.xTickOffset)} tickSize={0} tickMargin={0} axisLine={false} tickLine={false} height={XH} />
        <YAxis type="number" scale="log" domain={p.yDomain} allowDataOverflow ticks={p.yMajor}
          interval={0} tick={makeYTick(p.yLabeled)} tickSize={0} tickMargin={0} axisLine={false} tickLine={false} width={YW} />
        {p.series.map((s, i) => (
          <Line key={i} data={s.map(([x, y]) => ({ x, y }))} dataKey="y" type="linear" stroke={p.colors[i]}
            strokeWidth={1.1} dot={false} activeDot={false} connectNulls={false} isAnimationActive={false} />
        ))}
      </LineChart>
    </div>
  );
};

const Overlay = () => (
  <svg width={640} height={316} style={{ position: 'absolute', left: 0, top: 0, pointerEvents: 'none' }}>
    {panels.map((p, k) => {
      const { frame, legend } = p;
      const perCol = legend.rows.length;
      return (
        <g key={k}>
          <rect x={frame.x + 0.5} y={frame.y + 0.5} width={frame.w} height={frame.h} fill="none" stroke="#3a3a3a" strokeWidth={0.9} />
          <rect x={legend.x + 0.5} y={legend.y + 0.5} width={legend.w} height={legend.h} rx={1.5}
            fill="#ffffff" fillOpacity={0.82} stroke="#cfcfcf" strokeWidth={0.7} />
          {p.names.map((n, i) => {
            const cx = legend.cols[Math.floor(i / perCol)];
            const ry = legend.rows[i % perCol];
            return (
              <g key={i}>
                <line x1={cx} x2={cx + legend.len} y1={ry} y2={ry} stroke={p.colors[i]} strokeWidth={1.4} />
                <text x={cx + legend.len + 4} y={ry + 1.8} fontSize={5.2} fill="#333" fontFamily={SANS}>
                  {n}<tspan dy={1.4} fontSize={3.6}>{p.subs[i]}</tspan>
                </text>
              </g>
            );
          })}
          <text x={p.xLabelPos[0]} y={p.xLabelPos[1]} textAnchor="middle" dominantBaseline="middle" fontSize={5.3} fill="#333" fontFamily={SANS}>
            {p.xLabel}
          </text>
          <text x={p.yLabelPos[0]} y={p.yLabelPos[1]} textAnchor="middle" dominantBaseline="middle" fontSize={5.3} fill="#333" fontFamily={SANS}
            transform={`rotate(-90 ${p.yLabelPos[0]} ${p.yLabelPos[1]})`}>
            {p.yLabel}
          </text>
          <text x={p.captionPos[0]} y={p.captionPos[1]} textAnchor="middle" dominantBaseline="middle" fontSize={10} fill="#111"
            fontFamily="DejaVu Serif, serif">
            {p.caption}
          </text>
        </g>
      );
    })}
  </svg>
);

export default function App() {
  return (
    <div style={{ position: 'absolute', left: 0, top: 0, width: 640, height: 316, background: '#fff', overflow: 'hidden' }}>
      {panels.map((p, i) => (
        <PanelChart key={i} p={p} />
      ))}
      <Overlay />
    </div>
  );
}
